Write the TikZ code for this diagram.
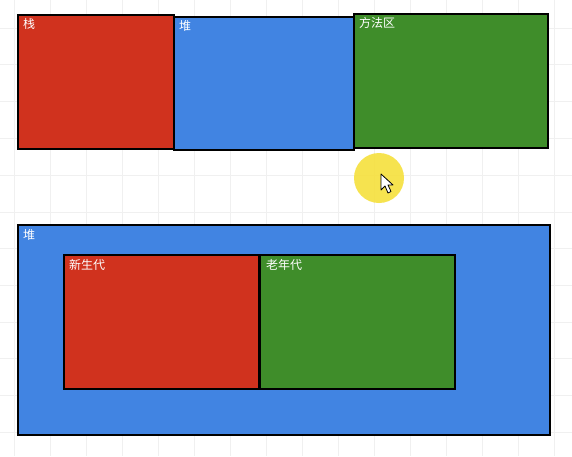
\documentclass[tikz,border=0pt]{standalone}
\usepackage{fontspec}
\newfontfamily\cjk{Noto Sans CJK SC}
\definecolor{memred}{RGB}{208,50,30}
\definecolor{memblue}{RGB}{65,132,226}
\definecolor{memgreen}{RGB}{63,141,42}
\definecolor{hilite}{RGB}{246,224,60}
\definecolor{gridc}{RGB}{240,240,240}
\tikzset{
  area/.style={draw=black, line width=1.6pt, rectangle, anchor=north west, inner sep=0pt},
  lbl/.style={anchor=north west, inner sep=0pt, text=white, font=\cjk\fontsize{12}{14}\selectfont}
}
\begin{document}
\begin{tikzpicture}[x=1pt,y=-1pt]
\useasboundingbox (0,0) rectangle (572,456);
\fill[white] (0,0) rectangle (572,456);
\foreach \gx in {14,50,86,122,158,194,230,266,302,338,374,410,446,482,518,554}
  \draw[gridc, line width=0.6pt] (\gx,0) -- (\gx,456);
\foreach \gy in {28,64,101,138,175,212,248,285,322,358,395,432}
  \draw[gridc, line width=0.6pt] (0,\gy) -- (572,\gy);
% top row
\node[area, fill=memred, minimum width=156, minimum height=134] (stack) at (17,14) {};
\node[area, fill=memblue, minimum width=180, minimum height=133] (heap) at (173,16) {};
\node[area, fill=memgreen, minimum width=194, minimum height=134] (method) at (353,13) {};
\node[lbl] (lstack) at (23,18) {栈};
\node[lbl] (lheap) at (179,20) {堆};
\node[lbl] (lmethod) at (359,17) {方法区};
% bottom
\node[area, fill=memblue, minimum width=532, minimum height=210] (heap2) at (17,224) {};
\node[area, fill=memred, minimum width=195, minimum height=134] (young) at (63,254) {};
\node[area, fill=memgreen, minimum width=195, minimum height=134] (old) at (259,254) {};
\node[lbl] (lheap2) at (23,229) {堆};
\node[lbl] (lyoung) at (69,259) {新生代};
\node[lbl] (lold) at (266,259) {老年代};
% cursor highlight
\fill[hilite, opacity=0.9] (379,178) circle (25);
\draw[fill=white, line width=0.8pt, line join=round]
  (381,174) -- (381,190) -- (385,186) -- (388,193) -- (391,191.5) -- (388,185) -- (393,185) -- cycle;
\end{tikzpicture}
\end{document}
